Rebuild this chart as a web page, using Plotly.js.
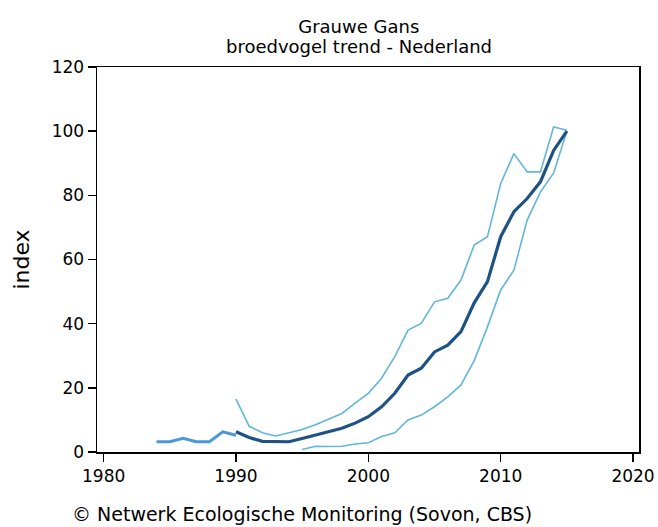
<!DOCTYPE html>
<html>
<head>
<meta charset="utf-8">
<script src="https://cdn.plot.ly/plotly-3.0.1.min.js"></script>
<style>html,body{margin:0;padding:0;background:#fff;}#chart{width:658px;height:527px;}</style>
</head>
<body>
<div id="chart"></div>
<script>
// Early series (1984-1990)
var earlyYears = [1984, 1985, 1986, 1987, 1988, 1989, 1990];
var earlyIndex = [3.2, 3.2, 4.3, 3.2, 3.2, 6.3, 5.2];

// Trend (1990-2015)
var trendYears = [1990, 1991, 1992, 1993, 1994, 1995, 1996, 1997, 1998, 1999, 2000, 2001, 2002, 2003, 2004, 2005, 2006, 2007, 2008, 2009, 2010, 2011, 2012, 2013, 2014, 2015];
var trendIndex = [6.3, 4.5, 3.3, 3.2, 3.2, 4.2, 5.3, 6.3, 7.4, 9.0, 11.0, 14.1, 18.3, 24.0, 26.1, 31.2, 33.3, 37.5, 46.5, 53.1, 67.1, 74.9, 79.0, 84.2, 94.0, 100.0];

// Upper bound (1990-2015)
var upperYears = [1990, 1991, 1992, 1993, 1994, 1995, 1996, 1997, 1998, 1999, 2000, 2001, 2002, 2003, 2004, 2005, 2006, 2007, 2008, 2009, 2010, 2011, 2012, 2013, 2014, 2015];
var upperIndex = [16.5, 8.0, 6.0, 5.0, 6.0, 7.0, 8.5, 10.2, 12.0, 15.2, 18.3, 23.0, 29.7, 38.0, 40.1, 46.8, 47.9, 53.6, 64.5, 67.1, 83.7, 93.0, 87.3, 87.3, 101.3, 100.3];

// Lower bound (1995-2015)
var lowerYears = [1995, 1996, 1997, 1998, 1999, 2000, 2001, 2002, 2003, 2004, 2005, 2006, 2007, 2008, 2009, 2010, 2011, 2012, 2013, 2014, 2015];
var lowerIndex = [0.8, 1.8, 1.7, 1.8, 2.5, 2.9, 4.8, 6.0, 10.0, 11.5, 14.1, 17.2, 20.9, 28.5, 39.0, 50.5, 56.7, 72.3, 81.0, 87.0, 100.0];

var xTicks = [1980, 1990, 2000, 2010, 2020];
var yTicks = [0, 20, 40, 60, 80, 100, 120];

var titleLine1 = 'Grauwe Gans';
var titleLine2 = 'broedvogel trend - Nederland';
var footer = '© Netwerk Ecologische Monitoring (Sovon, CBS)';

var font = "DejaVu Sans, Verdana, sans-serif";

var traces = [
  {x: upperYears, y: upperIndex, mode: 'lines', line: {color: '#62b6dc', width: 1.6}, hoverinfo: 'skip'},
  {x: lowerYears, y: lowerIndex, mode: 'lines', line: {color: '#62b6dc', width: 1.6}, hoverinfo: 'skip'},
  {x: earlyYears, y: earlyIndex, mode: 'lines', line: {color: '#4a98d6', width: 3}},
  {x: trendYears, y: trendIndex, mode: 'lines', line: {color: '#1c5284', width: 3.2}}
];

var layout = {
  width: 658, height: 527,
  margin: {l: 97, r: 19, t: 67, b: 75},
  paper_bgcolor: '#ffffff', plot_bgcolor: '#ffffff',
  showlegend: false,
  font: {family: font, color: '#000', size: 17},
  title: {
    text: titleLine1,
    font: {family: font, size: 18, color: '#000'},
    xref: 'paper', x: 0.483, xanchor: 'center',
    yref: 'container', y: 1 - 27/527, yanchor: 'middle'
  },
  xaxis: {
    range: [1979.5, 2020.45],
    tickvals: xTicks, ticktext: xTicks.map(String),
    showgrid: false, zeroline: false,
    showline: true, linecolor: '#000', linewidth: 1.5, mirror: true,
    ticks: 'outside', ticklen: 8, tickcolor: '#000', tickwidth: 1.5,
    tickfont: {family: font, size: 17, color: '#000'}
  },
  yaxis: {
    range: [0, 120],
    tickvals: yTicks, ticktext: yTicks.map(String),
    showgrid: false, zeroline: false,
    showline: true, linecolor: '#000', linewidth: 1.5, mirror: true,
    ticks: 'outside', ticklen: 8, tickcolor: '#000', tickwidth: 1.5,
    tickfont: {family: font, size: 17, color: '#000'},
    title: {text: 'index', font: {family: font, size: 22, color: '#000'}, standoff: 16}
  },
  annotations: [
    {text: titleLine2, xref: 'paper', yref: 'paper',
     x: 0.483, xanchor: 'center', y: (452 - 46) / 385, yanchor: 'middle', showarrow: false,
     font: {family: font, size: 18, color: '#000'}},
    {text: footer, xref: 'paper', yref: 'paper',
     x: -27/542, xanchor: 'left', y: (452 - 514) / 385, yanchor: 'middle', showarrow: false,
     font: {family: font, size: 19, color: '#000'}}
  ]
};

Plotly.newPlot('chart', traces, layout, {staticPlot: true, displayModeBar: false});
</script>
</body>
</html>
